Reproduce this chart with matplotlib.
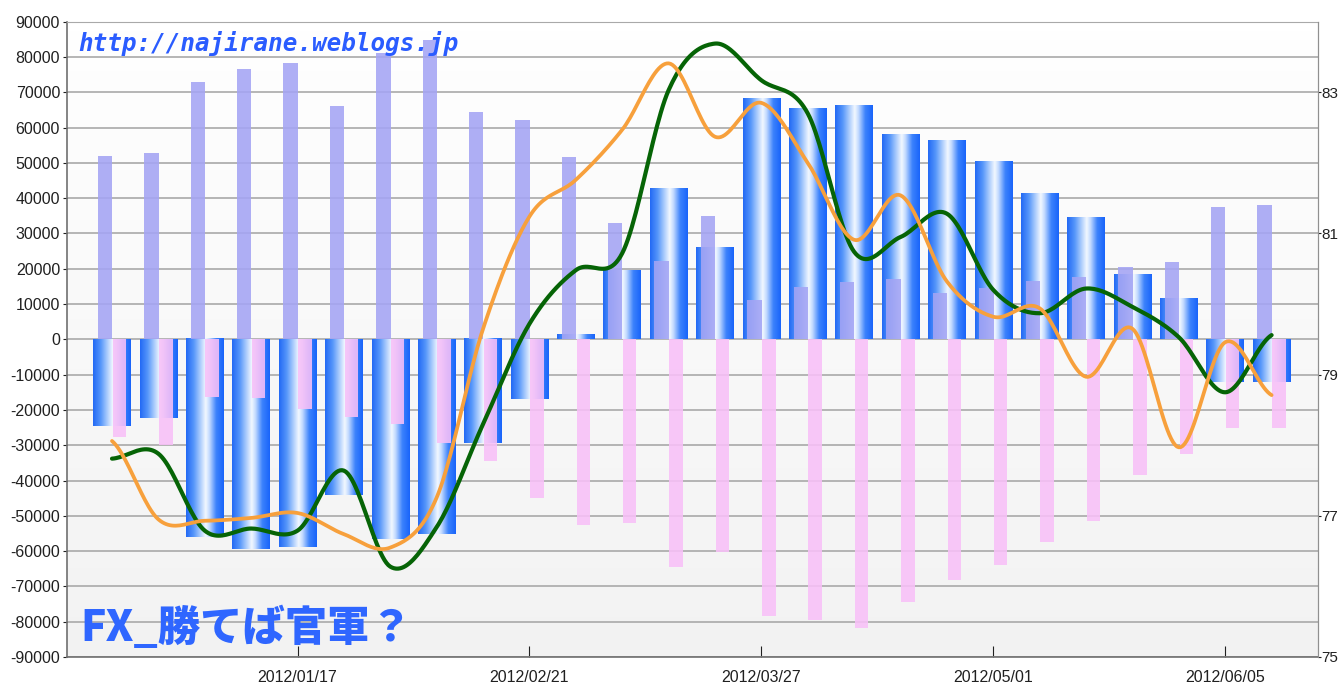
import numpy as np
import matplotlib
matplotlib.use("Agg")
import matplotlib.pyplot as plt
from matplotlib.ticker import FixedLocator

# weekly dates (categories)
dates = ["2011/12/20", "2011/12/27", "2012/01/03", "2012/01/10", "2012/01/17",
         "2012/01/24", "2012/01/31", "2012/02/07", "2012/02/14", "2012/02/21",
         "2012/02/28", "2012/03/06", "2012/03/13", "2012/03/20", "2012/03/27",
         "2012/04/03", "2012/04/10", "2012/04/17", "2012/04/24", "2012/05/01",
         "2012/05/08", "2012/05/15", "2012/05/22", "2012/05/29", "2012/06/05",
         "2012/06/12"]
tick_dates = ["2012/01/17", "2012/02/21", "2012/03/27", "2012/05/01", "2012/06/05"]

# left axis series
net = [-24500, -22300, -56100, -59400, -58800, -44000, -56600, -55100, -29500,
       -16900, 1200, 19400, 42500, 25800, 68000, 65200, 66100, 57900, 56100,
       50400, 41200, 34300, 18200, 11500, -12000, -12000]
longs = [52000, 52700, 73000, 76500, 78400, 66200, 81200, 84900, 64300, 62100,
         51700, 33100, 22200, 34900, 11100, 14700, 16200, 17000, 13000, 14500,
         16500, 17600, 20400, 21800, 37500, 38100]
shorts = [-27600, -29800, -16300, -16700, -19600, -21900, -24100, -29500, -34500,
          -44900, -52600, -52100, -64400, -60200, -78300, -79500, -81700, -74300,
          -68200, -64000, -57300, -51600, -38300, -32500, -25200, -25200]

# right axis series
orange = [78.06, 76.95, 76.93, 76.97, 77.04, 76.74, 76.55, 77.26, 79.65, 81.24,
          81.76, 82.47, 83.41, 82.37, 82.85, 82.0, 80.91, 81.54, 80.32, 79.82,
          79.94, 78.97, 79.65, 77.97, 79.46, 78.71]
green = [77.81, 77.88, 76.79, 76.82, 76.79, 77.64, 76.28, 76.84, 78.3, 79.72,
         80.48, 80.72, 83.03, 83.69, 83.17, 82.70, 80.74, 80.95, 81.28, 80.20,
         79.87, 80.22, 79.96, 79.53, 78.75, 79.56]

left_ticks = list(range(-90000, 90001, 10000))
right_ticks = [75, 77, 79, 81, 83]


def smooth(x, y, n=24):
    # catmull-rom through the points
    x = np.asarray(x, float)
    y = np.asarray(y, float)
    p = np.r_[y[0], y, y[-1]]
    xs, ys = [], []
    t = np.linspace(0, 1, n, endpoint=False)
    for i in range(len(y) - 1):
        p0, p1, p2, p3 = p[i], p[i + 1], p[i + 2], p[i + 3]
        ys.append(0.5 * (2 * p1 + (-p0 + p2) * t + (2 * p0 - 5 * p1 + 4 * p2 - p3) * t ** 2
                         + (-p0 + 3 * p1 - 3 * p2 + p3) * t ** 3))
        xs.append(x[i] + t * (x[i + 1] - x[i]))
    xs.append([x[-1]])
    ys.append([y[-1]])
    return np.concatenate(xs), np.concatenate(ys)


plt.rcParams['font.family'] = ['Liberation Sans', 'DejaVu Sans']

fig = plt.figure(figsize=(13.39, 6.82), dpi=100)
ax = fig.add_axes([67 / 1339, 1 - 657 / 682, (1318 - 67) / 1339, (657 - 21.7) / 682])

x = np.arange(len(dates))

# background gradient
bg = np.linspace(1.0, 0.95, 64)[:, None, None] * np.ones((1, 2, 3))
ax.imshow(bg, extent=[0, 1, 0, 1], transform=ax.transAxes, aspect='auto', zorder=0)

# blue gradient bars
stops = np.array([0.0, 0.2, 0.52, 0.62, 0.8, 1.0])
cols = np.array([[35, 105, 245], [85, 150, 250], [242, 248, 255], [195, 218, 255],
                 [60, 130, 252], [25, 100, 250]]) / 255
u = np.linspace(0, 1, 128)
grad = np.stack([np.interp(u, stops, cols[:, k]) for k in range(3)], axis=-1)[None, :, :]

bw = 0.81
for xi, v in zip(x, net):
    ax.imshow(grad, extent=[xi - bw / 2, xi + bw / 2, 0, v], aspect='auto',
              interpolation='bilinear', zorder=2)

ax.bar(x - 0.15, longs, width=0.31, color='#a4a4f4', alpha=0.88, zorder=3, linewidth=0)
ax.bar(x + 0.16, shorts, width=0.29, color='#f8c0f8', alpha=0.88, zorder=3, linewidth=0)

ax.set_xlim(-0.97, 26.0)
ax.set_ylim(-90000, 90000)
ax.yaxis.set_major_locator(FixedLocator(left_ticks))
ax.set_yticklabels([str(t) for t in left_ticks])
ax.set_xticks([dates.index(d) for d in tick_dates])
ax.set_xticklabels(tick_dates)
ax.yaxis.grid(True, color='#a9a9a9', linewidth=1.2)
ax.set_axisbelow(True)
ax.tick_params(axis='y', direction='out', length=3, pad=2, labelsize=11.5,
               colors='#202020')
ax.tick_params(axis='x', direction='in', length=8, pad=9, labelsize=11.5,
               colors='#202020')
for s in ['left', 'bottom']:
    ax.spines[s].set_color('#707070')
    ax.spines[s].set_linewidth(1.2)
ax.spines['top'].set_color('#a9a9a9')
ax.spines['right'].set_color('#909090')

# right axis lines
ax2 = ax.twinx()
gx, gy = smooth(x, green)
ox, oy = smooth(x, orange)
ax2.plot(gx, gy, color='#066406', linewidth=3.0, solid_capstyle='round', zorder=4)
ax2.plot(ox, oy, color='#f7a03c', linewidth=2.7, solid_capstyle='round', zorder=5)
ax2.set_ylim(75, 84)
ax2.set_yticks(right_ticks)
ax2.tick_params(axis='y', direction='out', length=2, pad=0.5, labelsize=11,
                colors='#202020')
for s in ['left', 'bottom', 'top']:
    ax2.spines[s].set_visible(False)
ax2.spines['right'].set_color('#909090')

# watermarks
fig.text(78 / 1339, 1 - 51 / 682, "http://najirane.weblogs.jp", color='#2a5cff',
         family='DejaVu Sans Mono', weight='bold', style='oblique', fontsize=17.5,
         va='baseline', zorder=10)
fig.text(80 / 1339, 1 - 628 / 682, "FX_勝てば官軍？", color='#2f66ff',
         family=['Noto Sans CJK JP', 'DejaVu Sans'], weight='heavy', fontsize=30.5,
         va='center', zorder=10)

fig.savefig("out.png", dpi=100)
